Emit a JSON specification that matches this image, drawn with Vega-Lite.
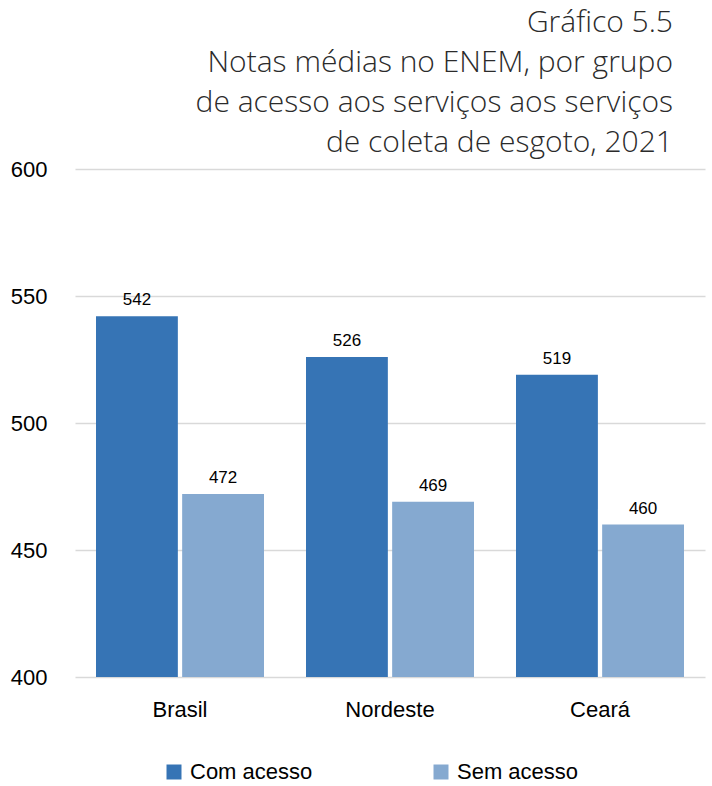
{
  "$schema": "https://vega.github.io/schema/vega-lite/v6.json",
  "width": 630,
  "height": 508,
  "padding": {"left": 10, "top": 8, "right": 6, "bottom": 0},
  "background": "white",
  "title": {
    "text": ["Gráfico 5.5", "Notas médias no ENEM, por grupo", "de acesso aos serviços aos serviços", "de coleta de esgoto, 2021"],
    "anchor": "end",
    "dx": -32,
    "font": "Open Sans",
    "fontWeight": 300,
    "fontSize": 30,
    "lineHeight": 40,
    "color": "#2b2b2b",
    "offset": 0
  },
  "data": {
    "values": [
      {"regiao": "Brasil", "grupo": "Com acesso", "nota": 542},
      {"regiao": "Brasil", "grupo": "Sem acesso", "nota": 472},
      {"regiao": "Nordeste", "grupo": "Com acesso", "nota": 526},
      {"regiao": "Nordeste", "grupo": "Sem acesso", "nota": 469},
      {"regiao": "Ceará", "grupo": "Com acesso", "nota": 519},
      {"regiao": "Ceará", "grupo": "Sem acesso", "nota": 460}
    ]
  },
  "encoding": {
    "x": {
      "field": "regiao",
      "type": "nominal",
      "sort": ["Brasil", "Nordeste", "Ceará"],
      "scale": {"paddingInner": 0.2, "paddingOuter": 0.1},
      "axis": {"title": null, "labelAngle": 0, "domain": false, "ticks": false, "labelFont": "Liberation Sans", "labelFontSize": 22, "labelColor": "#000000", "labelPadding": 22}
    },
    "xOffset": {"field": "grupo", "type": "nominal", "scale": {"paddingInner": 0.05, "paddingOuter": 0}},
    "y": {
      "field": "nota",
      "type": "quantitative",
      "scale": {"domain": [400, 600], "zero": false},
      "axis": {"title": null, "values": [400, 450, 500, 550, 600], "domain": false, "ticks": false, "labelFont": "Liberation Sans", "labelFontSize": 22, "labelColor": "#000000", "labelPadding": 28, "gridColor": "#d9d9d9", "gridWidth": 1.5}
    }
  },
  "layer": [
    {
      "mark": {"type": "bar"},
      "encoding": {
        "y2": {"datum": 400},
        "color": {
          "field": "grupo",
          "type": "nominal",
          "scale": {"domain": ["Com acesso", "Sem acesso"], "range": ["#3674B5", "#85A9D0"]},
          "legend": {"title": null, "orient": "none", "legendX": 88, "legendY": 592, "direction": "horizontal", "symbolType": "square", "symbolSize": 225, "symbolStrokeWidth": 0, "labelFont": "Liberation Sans", "labelFontSize": 22, "labelColor": "#000000", "columnPadding": 117, "labelOffset": 5}
        }
      }
    },
    {
      "mark": {"type": "text", "baseline": "bottom", "dy": -7, "font": "Liberation Sans", "fontSize": 17, "color": "#000000"},
      "encoding": {"text": {"field": "nota", "type": "quantitative"}}
    }
  ],
  "config": {"view": {"stroke": null}}
}
